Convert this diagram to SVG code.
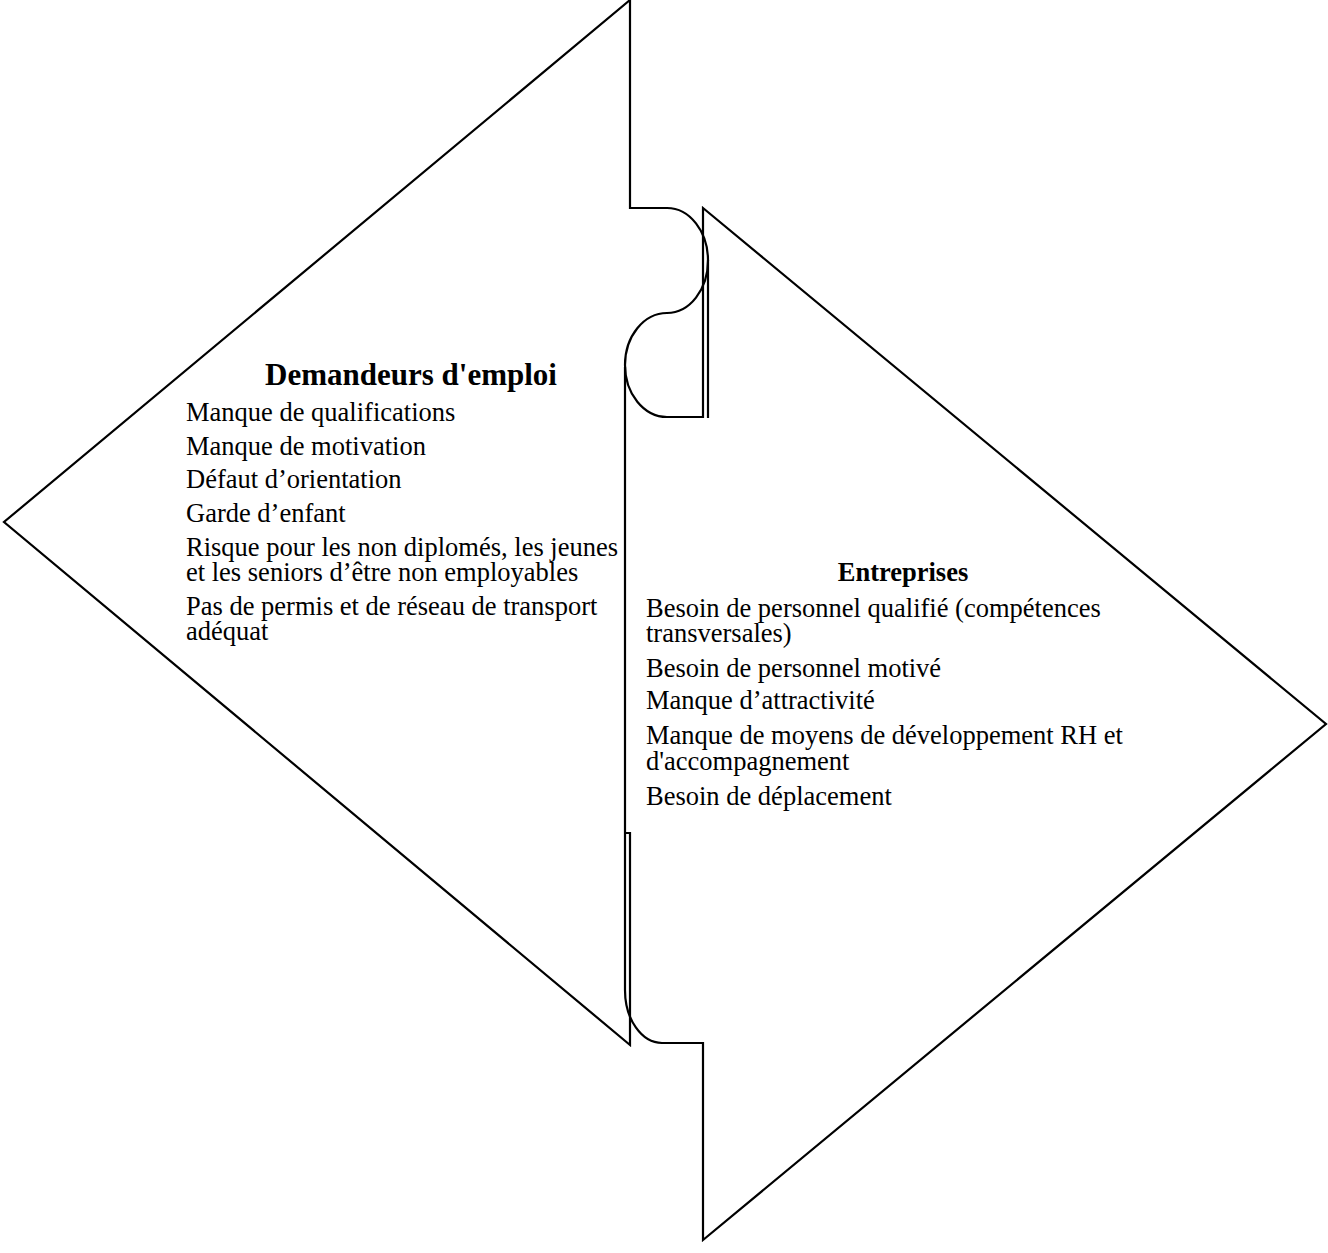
<svg xmlns="http://www.w3.org/2000/svg" width="1328" height="1253" viewBox="0 0 1328 1253">
<style>
.ln{fill:none;stroke:#000;stroke-width:2.2;stroke-linejoin:miter}
.t{font-family:"Liberation Serif","Times New Roman",serif;font-size:26.5px;fill:#000}
.h{font-family:"Liberation Serif","Times New Roman",serif;font-weight:bold;fill:#000;text-anchor:middle}
</style>
<rect width="1328" height="1253" fill="#fff"/>
<g id="demandeurs">
<path class="ln" d="M630,0 L4,522 L630,1045 L630,833 L625,833"/>
<path class="ln" d="M630,0 L630,208 L667,208 A41 52.5 0 0 1 667,313 A42 52 0 0 0 667,417"/>
<path class="ln" d="M708,260 L708,418"/>
<text class="h" x="411" y="385" font-size="31px">Demandeurs d'emploi</text>
<text class="t" x="186" y="421">Manque de qualifications</text>
<text class="t" x="186" y="455">Manque de motivation</text>
<text class="t" x="186" y="488">Défaut d’orientation</text>
<text class="t" x="186" y="522">Garde d’enfant</text>
<text class="t" x="186" y="556">Risque pour les non diplomés, les jeunes</text>
<text class="t" x="186" y="581">et les seniors d’être non employables</text>
<text class="t" x="186" y="615">Pas de permis et de réseau de transport</text>
<text class="t" x="186" y="640">adéquat</text>
</g>
<g id="entreprises">
<path class="ln" d="M667,417 L703,417 L703,208 L1326,724 L703,1240 L703,1043 L662,1043 A37 53 0 0 1 625,990 L625,367"/>
<text class="h" x="903" y="581" font-size="26.5px">Entreprises</text>
<text class="t" x="646" y="617">Besoin de personnel qualifié (compétences</text>
<text class="t" x="646" y="642">transversales)</text>
<text class="t" x="646" y="677">Besoin de personnel motivé</text>
<text class="t" x="646" y="709">Manque d’attractivité</text>
<text class="t" x="646" y="744">Manque de moyens de développement RH et</text>
<text class="t" x="646" y="770">d'accompagnement</text>
<text class="t" x="646" y="805">Besoin de déplacement</text>
</g>
</svg>
